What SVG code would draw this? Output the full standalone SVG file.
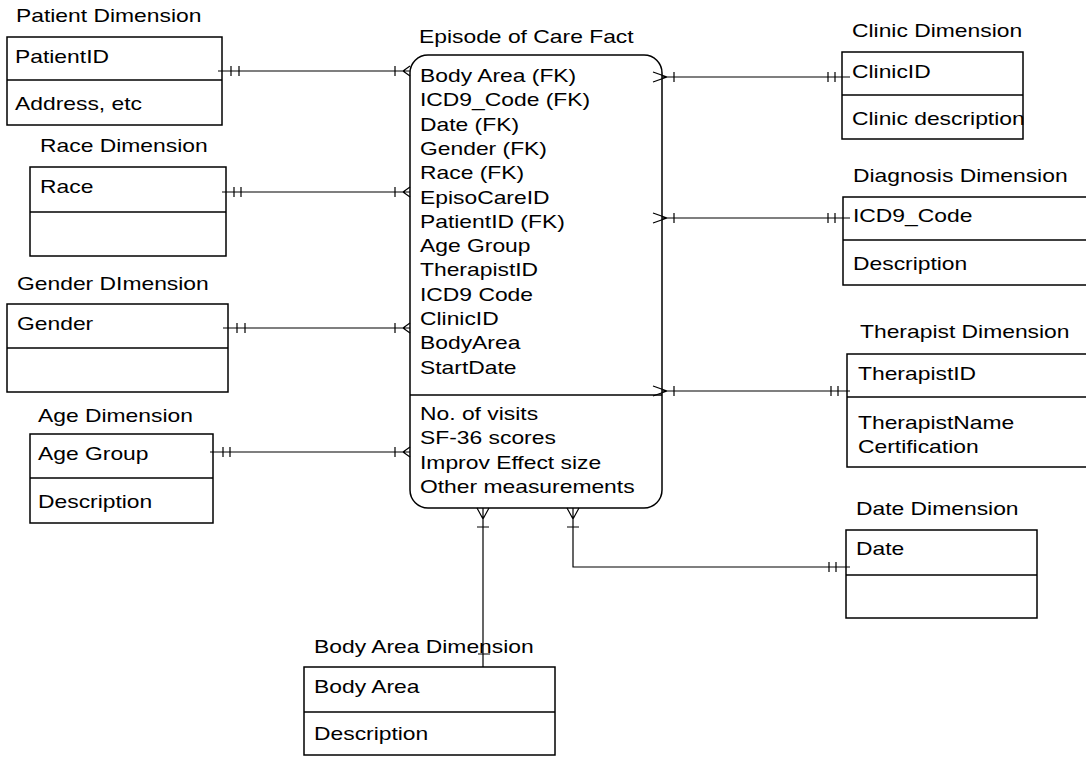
<svg xmlns="http://www.w3.org/2000/svg" width="1086" height="757" viewBox="0 0 1086 757">
<style>
.box{fill:#fff;stroke:#000;stroke-width:1.5}
.dv{stroke:#000;stroke-width:1.5}
.ln{stroke:#000;stroke-width:1.2;fill:none}
.t{font-family:"Liberation Sans",Arial,sans-serif;font-size:18px;fill:#000}
</style>
<rect width="1086" height="757" fill="#fff"/>
<g id="patient">
<rect class="box" x="7" y="37" width="215" height="88"/><line class="dv" x1="7" y1="80" x2="222" y2="80"/>
<text class="t" transform="translate(16,22) scale(1.27,1)">Patient Dimension</text>
<text class="t" transform="translate(15,63) scale(1.27,1)">PatientID</text>
<text class="t" transform="translate(15,110) scale(1.27,1)">Address, etc</text>
</g>
<g id="race">
<rect class="box" x="30" y="167" width="196" height="89"/><line class="dv" x1="30" y1="212" x2="226" y2="212"/>
<text class="t" transform="translate(40,152) scale(1.27,1)">Race Dimension</text>
<text class="t" transform="translate(40,193) scale(1.27,1)">Race</text>
</g>
<g id="gender">
<rect class="box" x="7" y="304" width="221" height="88"/><line class="dv" x1="7" y1="348" x2="228" y2="348"/>
<text class="t" transform="translate(17,290) scale(1.27,1)">Gender DImension</text>
<text class="t" transform="translate(17,330) scale(1.27,1)">Gender</text>
</g>
<g id="age">
<rect class="box" x="30" y="434" width="183" height="89"/><line class="dv" x1="30" y1="478" x2="213" y2="478"/>
<text class="t" transform="translate(38,422) scale(1.27,1)">Age Dimension</text>
<text class="t" transform="translate(38,460) scale(1.27,1)">Age Group</text>
<text class="t" transform="translate(38,508) scale(1.27,1)">Description</text>
</g>
<g id="fact">
<rect class="box" x="410" y="55" width="252" height="453" rx="18" ry="18"/><line class="dv" x1="410" y1="395" x2="662" y2="395"/>
<text class="t" transform="translate(419,43) scale(1.27,1)">Episode of Care Fact</text>
<text class="t" transform="translate(420,82) scale(1.27,1)">Body Area (FK)</text>
<text class="t" transform="translate(420,106.3) scale(1.27,1)">ICD9_Code (FK)</text>
<text class="t" transform="translate(420,130.6) scale(1.27,1)">Date (FK)</text>
<text class="t" transform="translate(420,154.9) scale(1.27,1)">Gender (FK)</text>
<text class="t" transform="translate(420,179.2) scale(1.27,1)">Race (FK)</text>
<text class="t" transform="translate(420,203.5) scale(1.27,1)">EpisoCareID</text>
<text class="t" transform="translate(420,227.8) scale(1.27,1)">PatientID (FK)</text>
<text class="t" transform="translate(420,252.1) scale(1.27,1)">Age Group</text>
<text class="t" transform="translate(420,276.4) scale(1.27,1)">TherapistID</text>
<text class="t" transform="translate(420,300.7) scale(1.27,1)">ICD9 Code</text>
<text class="t" transform="translate(420,325) scale(1.27,1)">ClinicID</text>
<text class="t" transform="translate(420,349.3) scale(1.27,1)">BodyArea</text>
<text class="t" transform="translate(420,373.6) scale(1.27,1)">StartDate</text>
<text class="t" transform="translate(420,420) scale(1.27,1)">No. of visits</text>
<text class="t" transform="translate(420,444.3) scale(1.27,1)">SF-36 scores</text>
<text class="t" transform="translate(420,468.6) scale(1.27,1)">Improv Effect size</text>
<text class="t" transform="translate(420,493) scale(1.27,1)">Other measurements</text>
</g>
<g id="clinic">
<rect class="box" x="842" y="52" width="181" height="87"/><line class="dv" x1="842" y1="95" x2="1023" y2="95"/>
<text class="t" transform="translate(852,37) scale(1.27,1)">Clinic Dimension</text>
<text class="t" transform="translate(852,78) scale(1.27,1)">ClinicID</text>
<text class="t" transform="translate(852,125) scale(1.27,1)">Clinic description</text>
</g>
<g id="diagnosis">
<rect class="box" x="843" y="197" width="260" height="88"/><line class="dv" x1="843" y1="240" x2="1103" y2="240"/>
<text class="t" transform="translate(853,182) scale(1.27,1)">Diagnosis Dimension</text>
<text class="t" transform="translate(853,222) scale(1.27,1)">ICD9_Code</text>
<text class="t" transform="translate(853,270) scale(1.27,1)">Description</text>
</g>
<g id="therapist">
<rect class="box" x="847" y="354" width="260" height="113"/><line class="dv" x1="847" y1="397" x2="1107" y2="397"/>
<text class="t" transform="translate(860,338) scale(1.27,1)">Therapist Dimension</text>
<text class="t" transform="translate(858,380) scale(1.27,1)">TherapistID</text>
<text class="t" transform="translate(858,429) scale(1.27,1)">TherapistName</text>
<text class="t" transform="translate(858,453) scale(1.27,1)">Certification</text>
</g>
<g id="date">
<rect class="box" x="846" y="530" width="191" height="88"/><line class="dv" x1="846" y1="575" x2="1037" y2="575"/>
<text class="t" transform="translate(856,515) scale(1.27,1)">Date Dimension</text>
<text class="t" transform="translate(856,555) scale(1.27,1)">Date</text>
</g>
<g id="bodyarea">
<rect class="box" x="304" y="667" width="251" height="88"/><line class="dv" x1="304" y1="712" x2="555" y2="712"/>
<text class="t" transform="translate(314,653) scale(1.27,1)">Body Area Dimension</text>
<text class="t" transform="translate(314,693) scale(1.27,1)">Body Area</text>
<text class="t" transform="translate(314,740) scale(1.27,1)">Description</text>
</g>
<g id="connectors" class="ln">
<!-- Patient -->
<path d="M218,71 H410 M231,66 V76 M239,66 V76 M395,66 V76 M403,71 L410,66 M403,71 L410,76"/>
<!-- Race -->
<path d="M222,192 H410 M234,187 V197 M241,187 V197 M395,187 V197 M403,192 L410,187 M403,192 L410,197"/>
<!-- Gender -->
<path d="M223,328 H410 M237,323 V333 M245,323 V333 M395,323 V333 M403,328 L410,323 M403,328 L410,333"/>
<!-- Age -->
<path d="M210,452 H410 M223,447 V457 M230,447 V457 M395,447 V457 M403,452 L410,447 M403,452 L410,457"/>
<!-- Clinic -->
<path d="M662,77 H850 M653,72 L667,77 L653,82 M674,72 V82 M828,72 V82 M835,72 V82"/>
<!-- Diagnosis -->
<path d="M662,218 H850 M653,213 L667,218 L653,223 M674,213 V223 M828,213 V223 M835,213 V223"/>
<!-- Therapist -->
<path d="M662,391 H850 M653,386 L667,391 L653,396 M674,386 V396 M831,386 V396 M838,386 V396"/>
<!-- Body Area -->
<path d="M483,508 V667 M477,508 L483,519 L489,508 M477,527 H489 M478,654 H490"/>
<!-- Date -->
<path d="M573,508 V567 H850 M567,508 L573,519 L579,508 M567,527 H579 M829,562 V572 M836,562 V572"/>
</g>
</svg>
